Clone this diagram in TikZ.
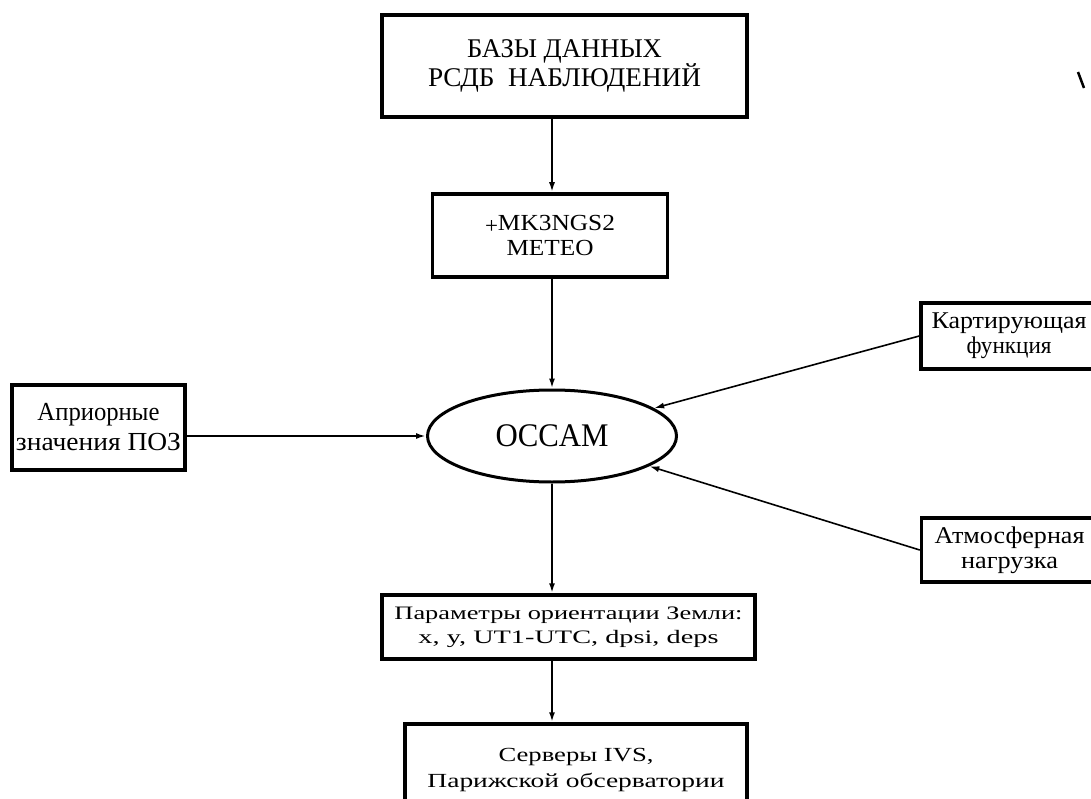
\documentclass[tikz,border=0pt]{standalone}
\usepackage{fontspec}
\setmainfont{Liberation Serif}
\usepackage{graphicx}
\usetikzlibrary{arrows.meta,shapes.geometric}
\newcommand\fw[2]{\resizebox{#1pt}{\height}{#2}}
\tikzset{
  box/.style={draw, line width=3.5pt, rectangle, inner sep=0pt, align=center},
  oval/.style={draw, line width=3pt, ellipse, inner sep=0pt, minimum width=249pt, minimum height=92pt},
  arr/.style={line width=2pt, -{Latex[length=10pt,width=6pt]}},
  tarr/.style={line width=1.6pt, -{Latex[length=10pt,width=6pt]}},
}
\begin{document}
\begin{tikzpicture}[x=1pt,y=-1pt]
\useasboundingbox (0,0) rectangle (1091,799);
\fill[white] (0,0) rectangle (1091,799);
% boxes
\node[box, minimum width=365pt, minimum height=102pt, font=\fontsize{27}{27}\selectfont] (db) at (564.5,66)
  {\fw{195}{БАЗЫ ДАННЫХ}\\ \fw{273}{РСДБ\ \ НАБЛЮДЕНИЙ}};
\node[box, minimum width=235pt, minimum height=83pt, font=\fontsize{23}{25}\selectfont] (mk) at (550,235.5)
  {\raisebox{-3pt}{+}\fw{117}{MK3NGS2}\\ \fw{87}{METEO}};
\node[oval, font=\fontsize{33}{33}\selectfont] (occam) at (552,436) {\fw{113}{OCCAM}};
\node[box, minimum width=173pt, minimum height=85pt, font=\fontsize{26}{30}\selectfont] (apr) at (98.5,427.5)
  {\fw{122}{Априорные}\\ \fw{165}{значения ПОЗ}};
\node[box, minimum width=176pt, minimum height=66pt, font=\fontsize{24}{25}\selectfont] (map) at (1009,336)
  {\fw{155}{Картирующая}\\ \fw{85}{функция}};
\node[box, minimum width=176pt, minimum height=64pt, font=\fontsize{24}{25}\selectfont] (atm) at (1009.5,550)
  {\fw{150}{Атмосферная}\\ \fw{97}{нагрузка}};
\node[box, minimum width=373pt, minimum height=64pt, font=\fontsize{19}{24}\selectfont] (eop) at (568.5,627)
  {\fw{348}{Параметры ориентации Земли:}\\ \fw{300}{x, y, UT1-UTC, dpsi, deps}};
\node[box, minimum width=342pt, minimum height=92pt, font=\fontsize{20}{25}\selectfont] (srv) at (576,770)
  {\fw{155}{Серверы IVS,}\\ \fw{297}{Парижской обсерватории}};
% connectors
\draw[arr] (db.south -| occam.north) -- (mk.north -| occam.north);
\draw[arr] (mk.south -| occam.north) -- (occam.north);
\draw[arr] (apr.east |- occam.west) -- (occam.west);
\draw[tarr] (map.west) -- (occam);
\draw[tarr] (atm.west) -- (occam);
\draw[arr] (occam.south) -- (eop.north -| occam.south);
\draw[arr] (eop.south -| occam.south) -- (srv.north -| occam.south);
% stray mark
\coordinate (m1) at (1078,72);
\coordinate (m2) at (1084,88);
\draw[line width=2.5pt] (m1) -- (m2);
\end{tikzpicture}
\end{document}
